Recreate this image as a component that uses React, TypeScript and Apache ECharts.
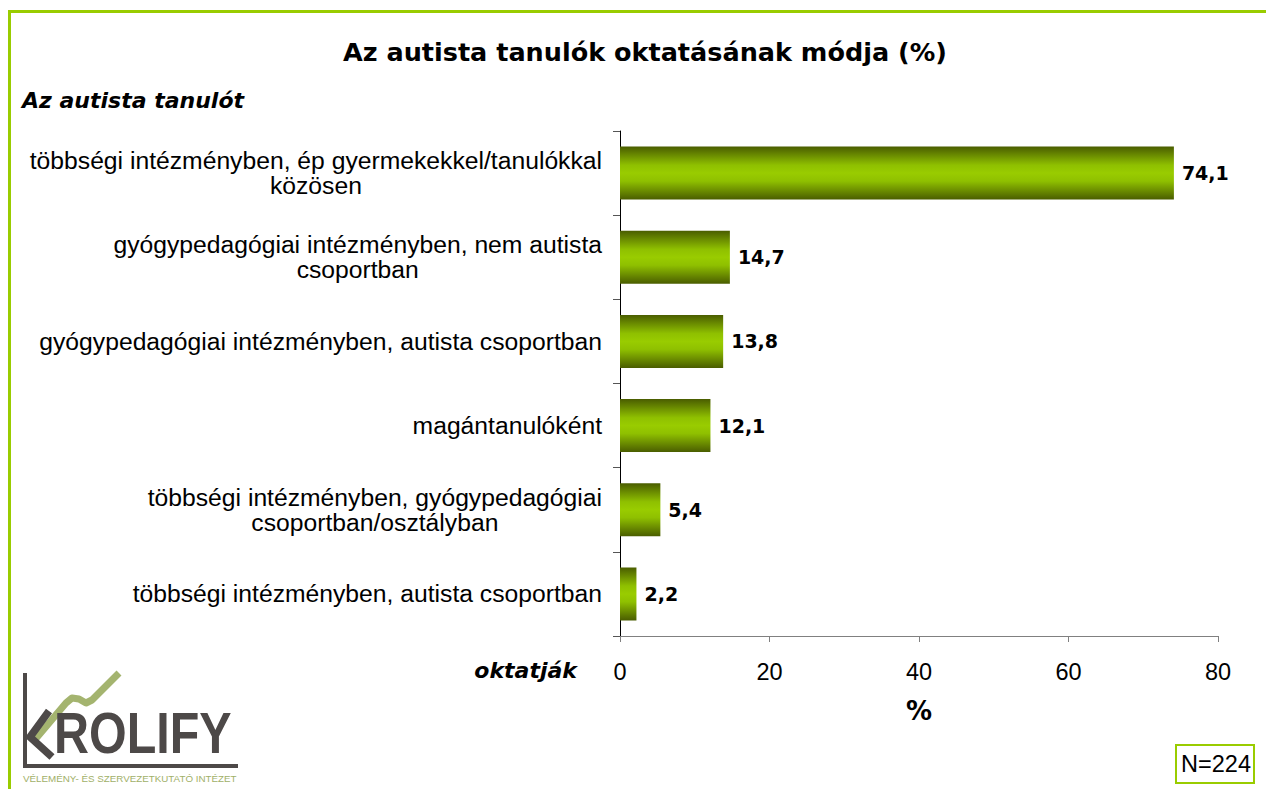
import React, { useEffect, useRef } from "react";
import * as echarts from "echarts";

const categories: string[] = [
  "többségi intézményben, ép gyermekekkel/tanulókkal\nközösen",
  "gyógypedagógiai intézményben, nem autista\ncsoportban",
  "gyógypedagógiai intézményben, autista csoportban",
  "magántanulóként",
  "többségi intézményben, gyógypedagógiai\ncsoportban/osztályban",
  "többségi intézményben, autista csoportban",
];
const values: number[] = [74.1, 14.7, 13.8, 12.1, 5.4, 2.2];
const titleText = "Az autista tanulók oktatásának módja (%)";
const subtitleText = "Az autista tanulót";
const bottomLeftText = "oktatják";
const xAxisName = "%";
const nText = "N=224";
const logoText = "ROLIFY";
const logoTagline = "VÉLEMÉNY- ÉS SZERVEZETKUTATÓ INTÉZET";

const GREEN = "#99cc00";
const ARIAL = "Liberation Sans, Arial, sans-serif";
const VERDANA = "DejaVu Sans, Verdana, sans-serif";

export default function App() {
  const ref = useRef<HTMLDivElement>(null);
  useEffect(() => {
    if (!ref.current) return;
    const chart = echarts.init(ref.current, null, { renderer: "svg" });
    const barGradient = new echarts.graphic.LinearGradient(0, 0, 0, 1, [
      { offset: 0, color: "#4a5d00" },
      { offset: 0.35, color: "#8fc000" },
      { offset: 0.5, color: "#99cc00" },
      { offset: 0.65, color: "#8fc000" },
      { offset: 1, color: "#4a5d00" },
    ]);
    chart.setOption({
      animation: false,
      backgroundColor: "#ffffff",
      title: {
        text: titleText,
        left: 338,
        top: 34,
        textStyle: { fontFamily: VERDANA, fontWeight: "bold", fontSize: 25.5, color: "#000" },
      },
      grid: { left: 620, right: 48, top: 131, bottom: 153, containLabel: false },
      xAxis: {
        type: "value",
        min: 0,
        max: 80,
        interval: 20,
        name: xAxisName,
        nameLocation: "middle",
        nameGap: 62,
        nameTextStyle: { fontFamily: VERDANA, fontWeight: "bold", fontSize: 26, color: "#000" },
        axisLine: { show: true, lineStyle: { color: "#808080", width: 1 } },
        axisTick: { show: true, length: 6, lineStyle: { color: "#808080" } },
        splitLine: { show: false },
        axisLabel: { fontFamily: ARIAL, fontSize: 23.5, color: "#000", margin: 24 },
      },
      yAxis: {
        type: "category",
        inverse: true,
        data: categories,
        axisLine: { show: true, lineStyle: { color: "#000", width: 1 } },
        axisTick: { show: true, length: 7, lineStyle: { color: "#555" } },
        axisLabel: {
          margin: 18,
          formatter: (v: string) => v.split("\n").map((l) => `{c|${l}}`).join("\n"),
          rich: {
            c: { align: "center", fontFamily: ARIAL, fontSize: 24.7, lineHeight: 25, color: "#000" },
          },
        },
      },
      series: [
        {
          type: "bar",
          data: values,
          barCategoryGap: "37%",
          itemStyle: { color: barGradient },
          label: {
            show: true,
            position: "right",
            distance: 8,
            formatter: (p: any) => String(p.value).replace(".", ","),
            fontFamily: VERDANA,
            fontWeight: "bold",
            fontSize: 19,
            color: "#000",
          },
        },
      ],
      graphic: [
        { type: "rect", shape: { x: 8, y: 10, width: 1258, height: 3 }, style: { fill: GREEN } },
        { type: "rect", shape: { x: 8, y: 10, width: 3, height: 779 }, style: { fill: GREEN } },
        {
          type: "text",
          x: 22,
          y: 100,
          style: {
            text: subtitleText,
            fontFamily: VERDANA,
            fontWeight: "bold",
            fontStyle: "italic",
            fontSize: 22,
            fill: "#000",
            verticalAlign: "middle",
          },
        },
        {
          type: "text",
          x: 577,
          y: 670,
          style: {
            text: bottomLeftText,
            fontFamily: VERDANA,
            fontWeight: "bold",
            fontStyle: "italic",
            fontSize: 22,
            fill: "#000",
            align: "right",
            verticalAlign: "middle",
          },
        },
        {
          type: "rect",
          shape: { x: 1176, y: 745, width: 78, height: 38 },
          style: { fill: "#fff", stroke: GREEN, lineWidth: 2 },
        },
        {
          type: "text",
          x: 1216,
          y: 764,
          style: {
            text: nText,
            fontFamily: ARIAL,
            fontSize: 23.5,
            fill: "#000",
            align: "center",
            verticalAlign: "middle",
          },
        },
        // logo
        {
          type: "polyline",
          shape: { points: [[33, 742], [66, 703], [72, 698], [79, 699], [86, 703], [92, 700], [119, 673]] },
          style: { stroke: "#a4b46f", lineWidth: 7, fill: "none", lineJoin: "round" },
        },
        {
          type: "polyline",
          shape: { points: [[25, 673], [25, 766], [238, 766]] },
          style: { stroke: "#4d4948", lineWidth: 4, fill: "none" },
        },
        {
          type: "polyline",
          shape: { points: [[49, 711], [30, 737], [52, 757]] },
          style: { stroke: "#4d4948", lineWidth: 7.5, fill: "none" },
        },
        {
          type: "text",
          x: 54,
          y: 733,
          scaleX: 0.85,
          style: {
            text: logoText,
            fontFamily: ARIAL,
            fontWeight: "bold",
            fontSize: 57,
            fill: "#4d4948",
            verticalAlign: "middle",
          },
        },
        {
          type: "text",
          x: 23,
          y: 778,
          style: {
            text: logoTagline,
            fontFamily: ARIAL,
            fontSize: 9.8,
            fill: "#9fb068",
            verticalAlign: "middle",
          },
        },
      ],
    });
    return () => chart.dispose();
  }, []);
  return <div ref={ref} style={{ width: 1266, height: 789, position: "absolute", left: 0, top: 0 }} />;
}
